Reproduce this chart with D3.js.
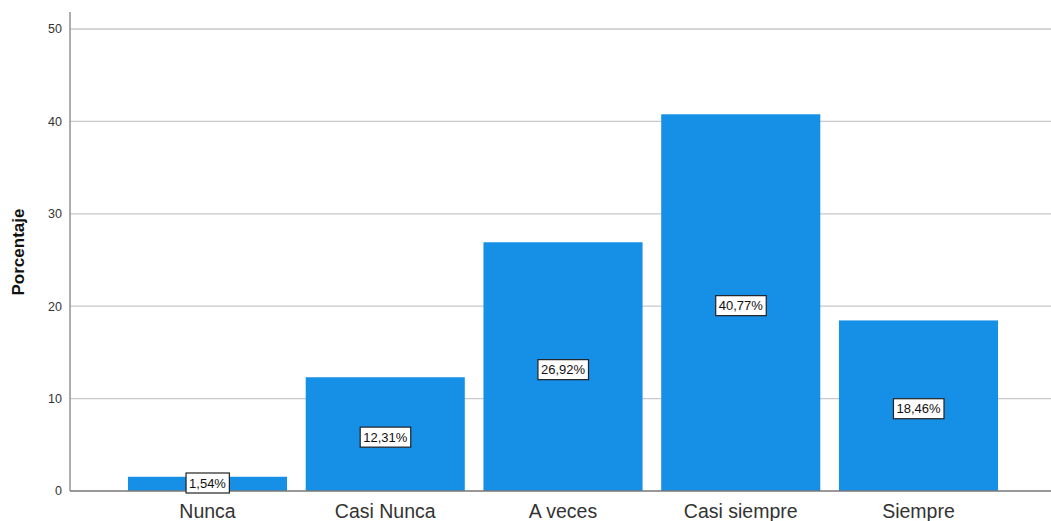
<!DOCTYPE html>
<html><head><meta charset="utf-8">
<script src="https://cdn.jsdelivr.net/npm/d3@7"></script>
<style>html,body{margin:0;padding:0;background:#fff;overflow:hidden}</style>
</head><body>
<svg id="c" width="1051" height="521"></svg>
<script>
const categories = ["Nunca", "Casi Nunca", "A veces", "Casi siempre", "Siempre"];
const values = [1.54, 12.31, 26.92, 40.77, 18.46];
const valueLabels = ["1,54%", "12,31%", "26,92%", "40,77%", "18,46%"];
const yTicks = [0, 10, 20, 30, 40, 50];

const svg = d3.select("#c");
const x0 = 70, y0 = 491;
const x = d3.scaleBand().domain(categories).range([x0, 1056]).paddingInner(0.105).paddingOuter(0.326);
const y = d3.scaleLinear().domain([0, 50]).range([y0, 29]);
const font = "Arial, 'Liberation Sans', sans-serif";

// gridlines
svg.append("g").selectAll("line").data(yTicks.filter(d => d > 0)).join("line")
  .attr("x1", x0).attr("x2", 1051).attr("y1", d => y(d)).attr("y2", d => y(d))
  .attr("stroke", "#c8c8c8").attr("stroke-width", 1.3);

// bars
svg.append("g").selectAll("rect").data(values).join("rect")
  .attr("x", (d, i) => x(categories[i])).attr("width", x.bandwidth())
  .attr("y", d => y(d)).attr("height", d => y0 - y(d))
  .attr("fill", "#168fe6");

// axes lines
svg.append("line").attr("x1", x0).attr("x2", x0).attr("y1", 12).attr("y2", y0)
  .attr("stroke", "#999").attr("stroke-width", 1.6);
svg.append("line").attr("x1", x0).attr("x2", 1051).attr("y1", y0).attr("y2", y0)
  .attr("stroke", "#777").attr("stroke-width", 1.6);

// y tick labels
svg.append("g").selectAll("text").data(yTicks).join("text")
  .attr("x", 62).attr("y", d => y(d)).attr("dy", "0.35em")
  .attr("text-anchor", "end").attr("font-family", font)
  .attr("font-size", 12.5).attr("fill", "#333").text(d => d);

// y axis title
svg.append("text").attr("transform", "translate(24,252) rotate(-90)")
  .attr("text-anchor", "middle").attr("font-family", font)
  .attr("font-weight", "bold").attr("font-size", 17).attr("fill", "#111").text("Porcentaje");

// category labels
svg.append("g").selectAll("text").data(categories).join("text")
  .attr("x", d => x(d) + x.bandwidth() / 2).attr("y", 518)
  .attr("text-anchor", "middle").attr("font-family", font)
  .attr("font-size", 19.5).attr("fill", "#333").text(d => d);

// value labels
const lg = svg.append("g").selectAll("g").data(values).join("g")
  .attr("transform", (d, i) => `translate(${x(categories[i]) + x.bandwidth() / 2},${Math.min((y(d) + y0) / 2 + 3, 483)})`);
lg.append("text").attr("text-anchor", "middle").attr("dy", "0.36em")
  .attr("font-family", font).attr("font-size", 13).attr("fill", "#111")
  .text((d, i) => valueLabels[i]);
lg.each(function() {
  const g = d3.select(this);
  const b = g.select("text").node().getBBox();
  g.insert("rect", "text").attr("x", b.x - 3).attr("y", -10).attr("width", b.width + 6).attr("height", 20)
    .attr("fill", "#fff").attr("stroke", "#222").attr("stroke-width", 1.2);
});
</script>
</body></html>
